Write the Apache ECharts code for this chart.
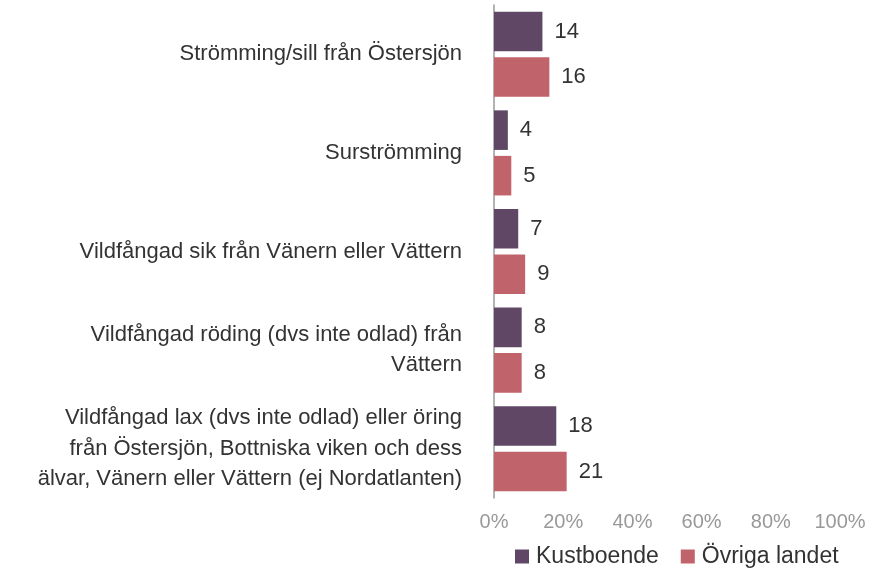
<!DOCTYPE html>
<html>
<head>
<meta charset="utf-8">
<script src="https://cdn.jsdelivr.net/npm/echarts@6/dist/echarts.min.js"></script>
<style>
  html, body { margin: 0; padding: 0; background: #fff; }
  #chart { width: 875px; height: 571px; }
</style>
</head>
<body>
<div id="chart"></div>
<script>
// kategorier uppifrån och ned
var categories = [
    'Strömming/sill från Östersjön',
    'Surströmming',
    'Vildfångad sik från Vänern eller Vättern',
    'Vildfångad röding (dvs inte odlad) från\nVättern',
    'Vildfångad lax (dvs inte odlad) eller öring\nfrån Östersjön, Bottniska viken och dess\nälvar, Vänern eller Vättern (ej Nordatlanten)'
];
var kustboende = [14, 4, 7, 8, 18];
var ovrigaLandet = [16, 5, 9, 8, 21];
var seriesNames = ['Kustboende', 'Övriga landet'];

var font = 'Liberation Sans, Arial, sans-serif';

var valueLabel = {
    show: true,
    position: 'right',
    distance: 12,
    color: '#333',
    fontSize: 22,
    fontFamily: font
};

var option = {
    animation: false,
    textStyle: { fontFamily: font },
    grid: {
        left: 494,
        right: 35,
        top: 5,
        bottom: 73
    },
    legend: {
        data: seriesNames,
        bottom: -2,
        left: 510,
        itemWidth: 14,
        itemHeight: 14,
        itemGap: 22,
        icon: 'rect',
        textStyle: { fontSize: 23, color: '#333', fontFamily: font, padding: [0, 0, 0, 2] }
    },
    xAxis: {
        type: 'value',
        min: 0,
        max: 100,
        interval: 20,
        splitLine: { show: false },
        axisLine: { show: false },
        axisTick: { show: false },
        axisLabel: {
            formatter: '{value}%',
            color: '#999',
            fontSize: 20,
            margin: 14,
            fontFamily: font
        }
    },
    yAxis: {
        type: 'category',
        inverse: true,
        data: categories,
        axisLine: { show: true, lineStyle: { color: '#999', width: 1.5 } },
        axisTick: { show: false },
        axisLabel: {
            color: '#333',
            fontSize: 22,
            lineHeight: 30.5,
            margin: 32,
            align: 'right',
            padding: [6, 0, 0, 0],
            fontFamily: font
        }
    },
    series: [{
        name: seriesNames[0],
        type: 'bar',
        data: kustboende,
        itemStyle: { color: '#604766' },
        barGap: '15%',
        barCategoryGap: '13.7%',
        label: valueLabel
    }, {
        name: seriesNames[1],
        type: 'bar',
        data: ovrigaLandet,
        itemStyle: { color: '#c0636b' },
        label: valueLabel
    }]
};

var myChart = echarts.init(document.getElementById('chart'));
myChart.setOption(option);
</script>
</body>
</html>
